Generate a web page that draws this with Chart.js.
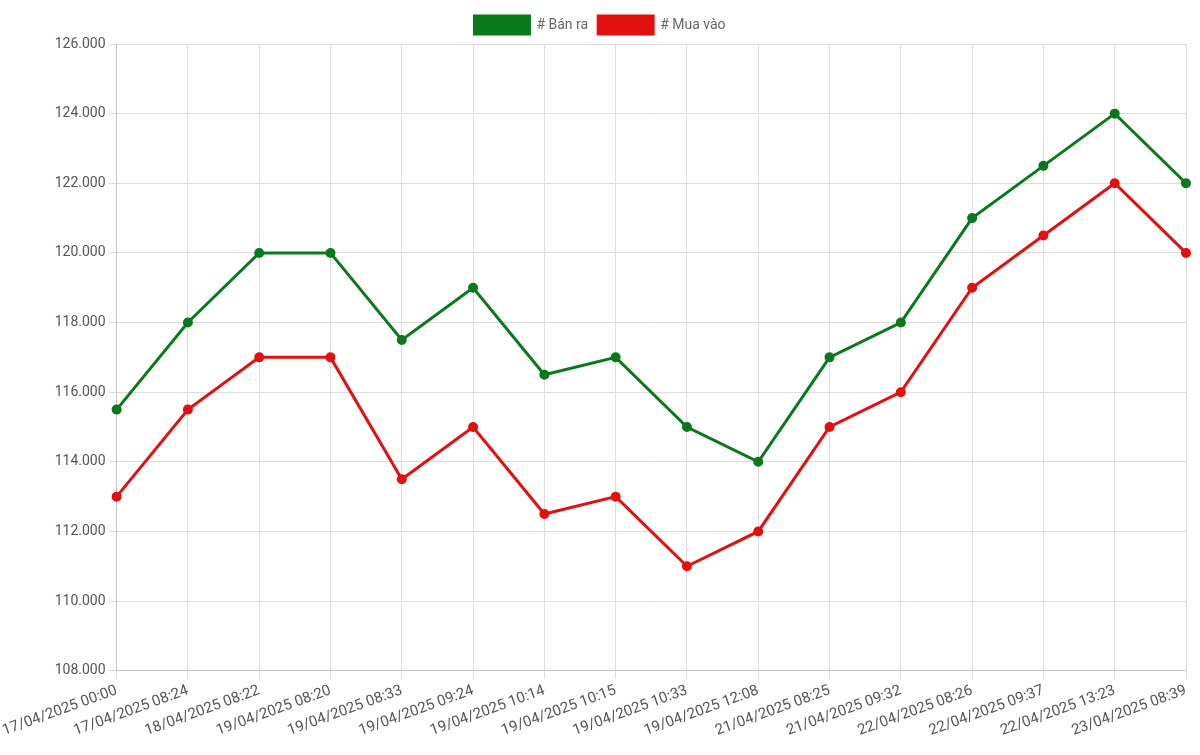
<!DOCTYPE html>
<html>
<head>
<meta charset="utf-8">
<script src="https://cdn.jsdelivr.net/npm/chart.js"></script>
<style>
  body { margin: 0; background: #fff; }
  #wrap { width: 1200px; height: 755px; }
</style>
</head>
<body>
<div id="wrap"><canvas id="myChart"></canvas></div>
<script>
const labels = ['17/04/2025 00:00', '17/04/2025 08:24', '18/04/2025 08:22', '19/04/2025 08:20',
    '19/04/2025 08:33', '19/04/2025 09:24', '19/04/2025 10:14', '19/04/2025 10:15',
    '19/04/2025 10:33', '19/04/2025 12:08', '21/04/2025 08:25', '21/04/2025 09:32',
    '22/04/2025 08:26', '22/04/2025 09:37', '22/04/2025 13:23', '23/04/2025 08:39'];

const banRa = [115500, 118000, 120000, 120000, 117500, 119000, 116500, 117000,
    115000, 114000, 117000, 118000, 121000, 122500, 124000, 122000];

const muaVao = [113000, 115500, 117000, 117000, 113500, 115000, 112500, 113000,
    111000, 112000, 115000, 116000, 119000, 120500, 122000, 120000];

Chart.defaults.font.family = 'Roboto, "Noto Sans", sans-serif';
Chart.defaults.font.size = 14;
Chart.defaults.color = '#666';

new Chart(document.getElementById('myChart'), {
    type: 'line',
    data: {
        labels: labels,
        datasets: [{
            label: '# Bán ra',
            data: banRa,
            borderColor: '#087a1c',
            backgroundColor: '#087a1c',
            borderWidth: 3,
            pointRadius: 3.5,
            tension: 0
        }, {
            label: '# Mua vào',
            data: muaVao,
            borderColor: '#e31010',
            backgroundColor: '#e31010',
            borderWidth: 3,
            pointRadius: 3.5,
            tension: 0
        }]
    },
    options: {
        responsive: true,
        maintainAspectRatio: false,
        animation: false,
        layout: { padding: { left: 14, right: 14, top: 6, bottom: 12 } },
        plugins: {
            legend: {
                labels: { boxWidth: 55, boxHeight: 18, padding: 10 }
            }
        },
        scales: {
            x: {
                ticks: { maxRotation: 20, minRotation: 20, autoSkip: false, color: '#555', font: { size: 15 } },
                grid: { color: '#ddd' }
            },
            y: {
                min: 108000,
                max: 126000,
                ticks: {
                    stepSize: 2000,
                    color: '#555',
                    callback: (v) => v.toLocaleString('de-DE')
                },
                grid: { color: '#ddd' }
            }
        }
    }
});
</script>
</body>
</html>
